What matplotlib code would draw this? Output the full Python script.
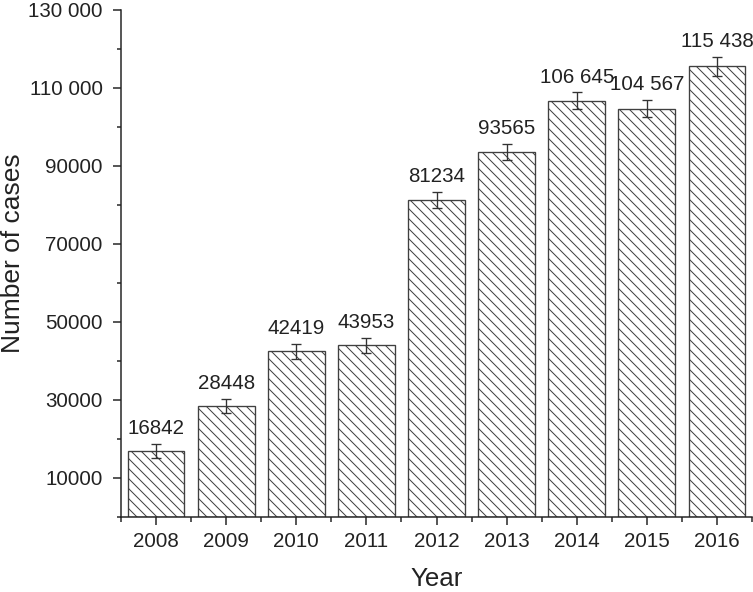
import matplotlib
matplotlib.use("Agg")
from matplotlib import pyplot as plt
from matplotlib.ticker import FixedLocator
import numpy as np

years = ["2008", "2009", "2010", "2011", "2012", "2013", "2014", "2015", "2016"]
cases = [16842, 28448, 42419, 43953, 81234, 93565, 106645, 104567, 115438]
errors = [1800, 1800, 1900, 1900, 2000, 2000, 2100, 2200, 2500]
labels = ["16842", "28448", "42419", "43953", "81234", "93565", "106 645", "104 567", "115 438"]
ytick_vals = [10000, 30000, 50000, 70000, 90000, 110000, 130000]
ytick_labels = ["10000", "30000", "50000", "70000", "90000", "110 000", "130 000"]

DPI = 120
BACKSLASH = chr(92)
plt.rcParams['font.family'] = ['Liberation Sans', 'DejaVu Sans']
plt.rcParams['hatch.linewidth'] = 0.6
plt.rcParams['hatch.color'] = '#333333'

fig = plt.figure(figsize=(753 / DPI, 592 / DPI), dpi=DPI)
ax = fig.add_axes([121 / 753, 1 - 517 / 592, (752 - 121) / 753, (517 - 9.5) / 592])

x = np.arange(1, len(years) + 1)
# 4 backslashes -> about 10 px between hatch lines at this dpi
ax.bar(x, cases, width=0.81, color='white', edgecolor='#404040', linewidth=0.8,
       hatch=BACKSLASH * 4, zorder=2)
ax.errorbar(x, cases, yerr=errors, fmt='none', ecolor='#333333', elinewidth=0.8,
            capsize=3, capthick=0.8, zorder=3)

for xi, v, e, lab in zip(x, cases, errors, labels):
    ax.annotate(lab, (xi, v + e), xytext=(0, 3.5), textcoords='offset points',
                ha='center', va='bottom', fontsize=12.3, color='#222222')

ax.set_xlim(0.5, 9.5)
ax.set_ylim(0, 130000)
ax.set_xticks(x)
ax.set_xticklabels(years)
ax.xaxis.set_minor_locator(FixedLocator(np.arange(0.5, 10, 1.0)))
ax.set_yticks(ytick_vals)
ax.set_yticklabels(ytick_labels)
ax.yaxis.set_minor_locator(FixedLocator(np.arange(0, 130001, 20000)))

for side in ['top', 'right']:
    ax.spines[side].set_visible(False)
for side in ['left', 'bottom']:
    ax.spines[side].set_linewidth(0.9)
    ax.spines[side].set_color('#222222')

ax.tick_params(which='major', direction='out', length=5, width=0.9, color='#222222',
               labelsize=12.3, labelcolor='#222222')
ax.tick_params(axis='y', which='major', pad=6)
ax.tick_params(axis='x', which='major', pad=4)
ax.tick_params(which='minor', direction='out', length=2.7, width=0.9, color='#222222')

ax.set_xlabel("Year", fontsize=15.5, color='#222222')
ax.set_ylabel("Number of cases", fontsize=15.8, color='#222222')
ax.xaxis.set_label_coords(0.5, -0.098)
ax.yaxis.set_label_coords(-0.152, 0.52)

fig.savefig("out.png", dpi=DPI)
